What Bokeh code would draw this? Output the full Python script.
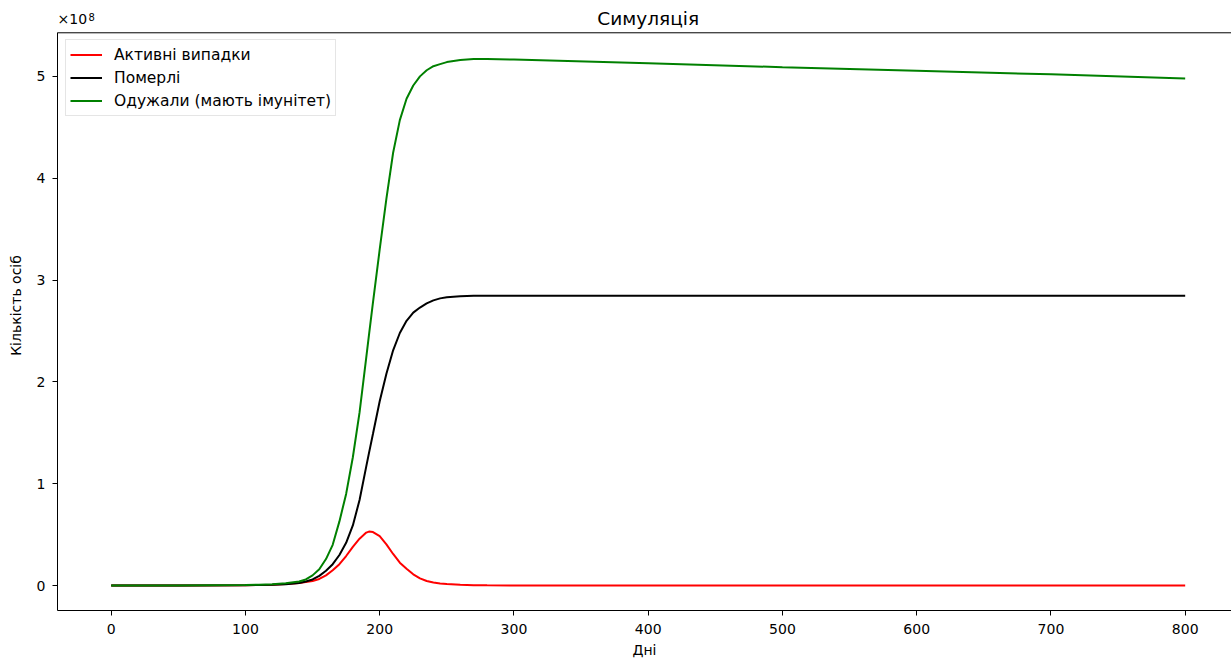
from bokeh.plotting import figure
from bokeh.models import Range1d, LinearAxis, Label, FixedTicker, Legend, LegendItem, Span
from bokeh.embed import file_html
from bokeh.resources import INLINE

# Days of the simulation
days = [0, 50, 100, 110, 120, 130, 140, 145, 150, 155, 160, 165, 170, 175, 180,
        185, 190, 192, 195, 200, 205, 210, 215, 220, 225, 230, 235, 240, 245,
        250, 260, 270, 280, 300, 400, 500, 600, 700, 800]

# Values in units of 1e8 persons
active = [0, 0.001, 0.003, 0.005, 0.008, 0.015, 0.025, 0.034, 0.045, 0.065,
          0.10, 0.15, 0.21, 0.29, 0.38, 0.46, 0.52, 0.53, 0.525, 0.485, 0.405,
          0.31, 0.225, 0.165, 0.11, 0.07, 0.045, 0.03, 0.021, 0.015, 0.007,
          0.004, 0.002, 0.001, 0, 0, 0, 0, 0]
died = [0, 0, 0.003, 0.005, 0.008, 0.013, 0.025, 0.04, 0.06, 0.095,
        0.145, 0.21, 0.30, 0.42, 0.59, 0.84, 1.17, 1.30, 1.49, 1.81,
        2.08, 2.31, 2.48, 2.60, 2.68, 2.73, 2.77, 2.80, 2.82, 2.83,
        2.84, 2.845, 2.845, 2.845, 2.845, 2.845, 2.845, 2.845, 2.845]
recovered = [0, 0, 0.005, 0.008, 0.013, 0.022, 0.04, 0.06, 0.10, 0.16,
             0.26, 0.40, 0.63, 0.90, 1.26, 1.70, 2.24, 2.46, 2.78, 3.30,
             3.80, 4.25, 4.57, 4.78, 4.91, 5.00, 5.06, 5.10, 5.12, 5.14,
             5.16, 5.17, 5.17, 5.165, 5.13, 5.09, 5.055, 5.02, 4.98]

labels = ["Активні випадки", "Померлі", "Одужали (мають імунітет)"]
colors = ["#ff0000", "#000000", "#008000"]
x_ticks = [0, 100, 200, 300, 400, 500, 600, 700, 800]
y_ticks = [0, 1, 2, 3, 4, 5]
title_text = "Симуляція"
scale_base = "×10"
scale_exp = "8"

FONT = "DejaVu Sans"

# axes box (matplotlib-like) limits
X0, X1 = -40, 840
Y0, Y1 = -0.245, 5.428

# the bokeh frame extends up to the top of the window so that the
# title and the offset text (drawn as labels) are not clipped
p = figure(width=1231, height=660, output_backend="svg", toolbar_location=None,
           title=None,
           x_range=Range1d(X0, 834.5), y_range=Range1d(Y0, 5.745),
           min_border_left=57, min_border_right=0, min_border_top=0,
           min_border_bottom=49, x_axis_location=None, y_axis_location=None)
p.background_fill_color = "white"
p.border_fill_color = "white"
p.outline_line_color = None
p.xgrid.visible = False
p.ygrid.visible = False


def style_axis(ax, ticks, label):
    ax.ticker = FixedTicker(ticks=ticks)
    ax.axis_label = label
    ax.axis_label_text_font = FONT
    ax.axis_label_text_font_size = "14px"
    ax.axis_label_text_font_style = "normal"
    ax.axis_label_text_color = "#000000"
    ax.major_label_text_font = FONT
    ax.major_label_text_font_size = "14px"
    ax.major_label_text_color = "#000000"
    ax.major_tick_out = 5
    ax.major_tick_in = 0
    ax.minor_tick_out = 0
    ax.minor_tick_in = 0
    ax.axis_line_color = "#000000"
    ax.major_tick_line_color = "#000000"
    ax.axis_line_width = 1


xa = LinearAxis()
style_axis(xa, x_ticks, "Дні")
xa.major_label_standoff = 8
xa.axis_label_standoff = 5
p.add_layout(xa, "below")

ya = LinearAxis()
style_axis(ya, y_ticks, "Кількість осіб")
ya.bounds = (Y0, Y1)
ya.major_label_standoff = 7
ya.axis_label_standoff = 10
p.add_layout(ya, "left")

# top spine
p.add_layout(Span(location=Y1, dimension="width", line_color="#000000", line_width=1))

renderers = []
for vals, c in zip([active, died, recovered], colors):
    renderers.append(p.line(days, vals, line_color=c, line_width=2))

legend = Legend(items=[LegendItem(label=l, renderers=[r]) for l, r in zip(labels, renderers)],
                location=(8, 494))
legend.label_text_font = FONT
legend.label_text_font_size = "15.5px"
legend.label_text_color = "#000000"
legend.border_line_color = "#cccccc"
legend.border_line_width = 1
legend.background_fill_alpha = 0.9
legend.margin = 0
legend.padding = 4
legend.spacing = 2
legend.glyph_width = 32
legend.glyph_height = 21
legend.label_height = 21
legend.label_standoff = 12
p.add_layout(legend, "center")

title = Label(x=(X0 + X1) / 2, y=5.569, text=title_text, text_font=FONT,
              text_font_size="18.5px", text_color="#000000",
              text_baseline="middle", text_align="center")
p.add_layout(title)

scale1 = Label(x=X0, y=5.48, text=scale_base, text_font=FONT, text_font_size="14px",
               text_color="#000000", text_baseline="bottom", text_align="left")
p.add_layout(scale1)
scale2 = Label(x=X0, y=5.539, x_offset=31, text=scale_exp, text_font=FONT,
               text_font_size="10px", text_color="#000000",
               text_baseline="bottom", text_align="left")
p.add_layout(scale2)

open("out.html", "w").write(file_html(p, INLINE))
